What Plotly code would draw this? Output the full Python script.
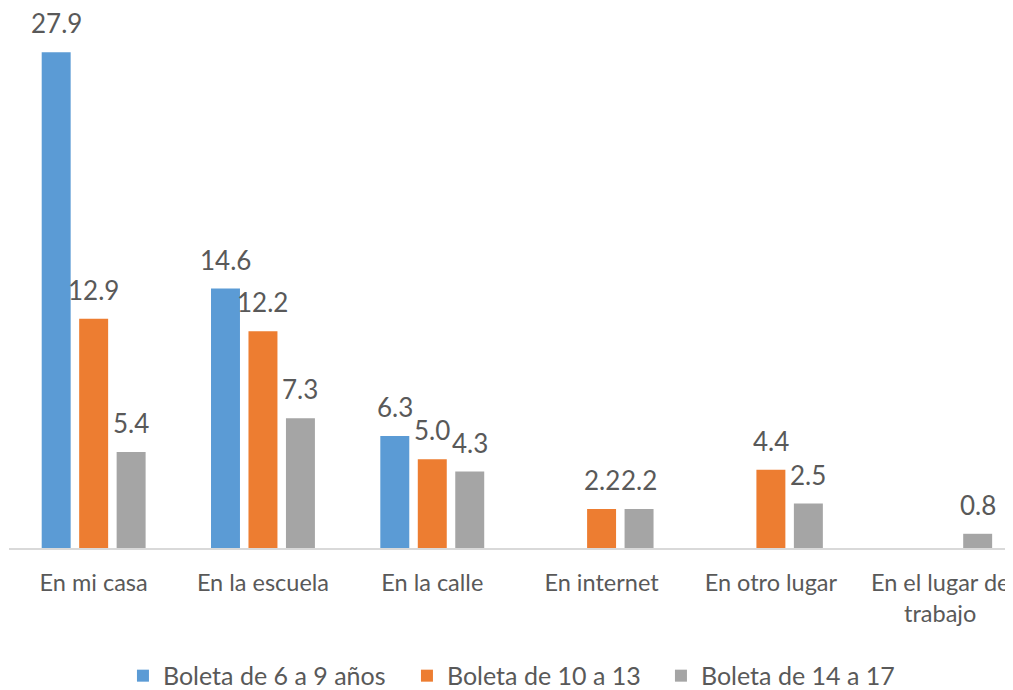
import plotly.graph_objects as go

categories = ["En mi casa", "En la escuela", "En la calle", "En internet", "En otro lugar", "En el lugar de<br>trabajo"]
series_names = ["Boleta de 6 a 9 años", "Boleta de 10 a 13", "Boleta de 14 a 17"]
s1 = [27.9, 14.6, 6.3, None, None, None]
s2 = [12.9, 12.2, 5.0, 2.2, 4.4, None]
s3 = [5.4, 7.3, 4.3, 2.2, 2.5, 0.8]
colors = ["#5B9BD5", "#ED7D31", "#A5A5A5"]
legend_widths = [239, 209, 200]

txt = "#595959"
font = "Lato, 'Open Sans', sans-serif"
fs = 23.5
legend_fs = 25
label_fs = 26

BARGAP = 0.336
BARGROUPGAP = 0.227
slot = (1 - BARGAP) / 3

fig = go.Figure()
annotations = []
for k, (name, vals, c, lw) in enumerate(zip(series_names, [s1, s2, s3], colors, legend_widths)):
    fig.add_trace(go.Bar(x=categories, y=vals, name=name, marker_color=c, legendwidth=lw))
    off = (k - 1) * slot
    for i, v in enumerate(vals):
        if v is None:
            continue
        annotations.append(dict(
            x=i + off, y=v, xref="x", yref="y", text="%.1f" % v,
            showarrow=False, yanchor="middle", yshift=29,
            font=dict(size=label_fs, color=txt, family=font),
        ))

fig.update_layout(
    template="none",
    width=1005, height=682,
    margin=dict(l=1, r=0, t=7, b=142, autoexpand=False),
    barmode="group", bargap=BARGAP, bargroupgap=BARGROUPGAP,
    plot_bgcolor="white", paper_bgcolor="white",
    font=dict(family=font, color=txt, size=fs),
    xaxis=dict(range=[-0.5, 5.43], showline=True, linecolor="#D9D9D9", linewidth=2,
               ticks="", tickfont=dict(size=fs, color=txt), showgrid=False,
               automargin=False, zeroline=False, ticklabelstandoff=13),
    yaxis=dict(range=[0, 30], visible=False, showgrid=False, automargin=False, zeroline=False),
    legend=dict(orientation="h", x=0.1135, xanchor="left", y=-0.240, yanchor="middle",
                font=dict(size=legend_fs, color=txt), bgcolor="rgba(0,0,0,0)"),
    annotations=annotations,
    showlegend=True,
)
fig.write_html("out.html")
